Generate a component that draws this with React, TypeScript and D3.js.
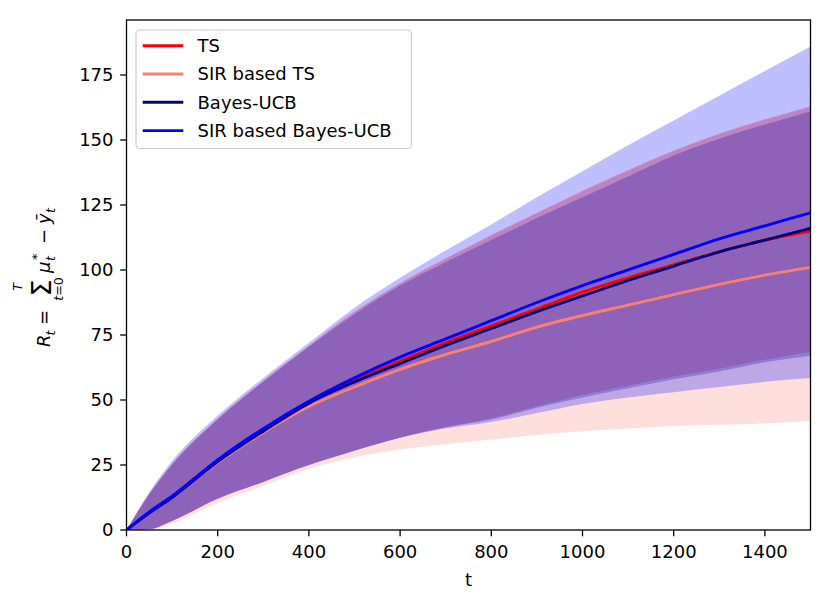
import * as d3 from "d3";

const steps = [0, 50, 100, 200, 300, 400, 500, 600, 700, 800, 900, 1000, 1100, 1200, 1300, 1400, 1500];

const tsMean = [0, 6.8, 12.8, 26.8, 38.5, 49, 57.5, 65, 72, 78.5, 85, 91.5, 97, 102, 107, 111.5, 115];
const tsLow = [0, 0.3, 3.5, 12, 18.5, 25, 30.5, 35.5, 39.5, 43, 47.5, 52, 55.5, 59, 62, 65.5, 68.5];
const tsHigh = [0, 14, 25.5, 43, 57.5, 71, 84, 95, 104.5, 113.5, 122, 130.5, 138.5, 146, 152.5, 158, 163];

const sirTsMean = [0, 6.5, 12.5, 26, 37.5, 47.5, 55, 61.8, 67.5, 72.5, 78, 82.5, 86.5, 90.5, 94.5, 98, 101];
const sirTsLow = [0, 0, 2.5, 10.5, 17, 23.5, 28, 31, 33, 34.8, 36.5, 38, 39, 40, 40.5, 41, 42];
const sirTsHigh = [0, 13.5, 25, 42.5, 57, 70.5, 83.5, 94.5, 104, 113, 121.5, 130, 138, 145.5, 152, 157.5, 162.5];

const bucbMean = [0, 6.5, 12.5, 26.3, 38, 48.8, 57, 64, 71, 77.5, 84, 90, 96, 101.5, 107, 111.5, 116];
const bucbLow = [0, 0.3, 3.5, 12, 18.5, 25, 30.5, 35.5, 39.5, 42.5, 47, 51, 54.5, 58, 61, 64.5, 67];
const bucbHigh = [0, 13.8, 25.2, 42.5, 57, 70.5, 83, 94, 103, 111.5, 120, 128, 136, 144, 150.5, 156, 161];

const sirBucbMean = [0, 7, 13, 27, 39, 49.5, 58.5, 66.5, 73.5, 80.5, 87.5, 94, 100, 106, 112, 117, 122];
const sirBucbLow = [0, 0.3, 3.5, 12, 18.5, 25, 30.5, 35.5, 39, 41.5, 45, 48.5, 51, 53, 55, 57, 58.5];
const sirBucbHigh = [0, 14.5, 26.5, 44, 58.5, 72, 85.5, 97, 107.5, 117.5, 128, 138, 148, 157.5, 167, 176.5, 186];

const xTicks = [0, 200, 400, 600, 800, 1000, 1200, 1400];
const yTicks = [0, 25, 50, 75, 100, 125, 150, 175];

type Series = { name: string; color: string; mean: number[]; low: number[]; high: number[] };

const series: Series[] = [
  { name: "TS", color: "#ff0000", mean: tsMean, low: tsLow, high: tsHigh },
  { name: "SIR based TS", color: "#fa8072", mean: sirTsMean, low: sirTsLow, high: sirTsHigh },
  { name: "Bayes-UCB", color: "#000080", mean: bucbMean, low: bucbLow, high: bucbHigh },
  { name: "SIR based Bayes-UCB", color: "#0000ff", mean: sirBucbMean, low: sirBucbLow, high: sirBucbHigh },
];

const W = 831;
const H = 602;
const margin = { top: 20, right: 20.5, bottom: 72, left: 126.5 };
const font = "DejaVu Sans, sans-serif";

const App = () => {
  const x = d3.scaleLinear().domain([0, 1500]).range([margin.left, W - margin.right]);
  const y = d3.scaleLinear().domain([0, 196.15]).range([H - margin.bottom, margin.top]);

  const idx = d3.range(steps.length);

  const area = (s: Series) =>
    d3
      .area<number>()
      .x((i) => x(steps[i]))
      .y0((i) => y(s.low[i]))
      .y1((i) => y(s.high[i]))
      .curve(d3.curveMonotoneX)(idx) ?? "";

  const line = (s: Series) =>
    d3
      .line<number>()
      .x((i) => x(steps[i]))
      .y((i) => y(s.mean[i]))
      .curve(d3.curveMonotoneX)(idx) ?? "";

  const [x0, x1] = x.range();
  const [yb, yt] = y.range();

  return (
    <svg
      width={W}
      height={H}
      style={{ position: "absolute", left: 0, top: 0, background: "#fff" }}
      fontFamily={font}
    >
      <defs>
        <clipPath id="plot">
          <rect x={x0} y={yt} width={x1 - x0} height={yb - yt} />
        </clipPath>
      </defs>

      <g clipPath="url(#plot)">
        {series.map((s) => (
          <path key={s.name + "-band"} d={area(s)} fill={s.color} fillOpacity={0.25} stroke="none" />
        ))}
        {series.map((s) => (
          <path
            key={s.name + "-line"}
            d={line(s)}
            fill="none"
            stroke={s.color}
            strokeWidth={2.9}
            strokeLinejoin="round"
          />
        ))}
      </g>

      {/* axes frame */}
      <rect x={x0} y={yt} width={x1 - x0} height={yb - yt} fill="none" stroke="#000" strokeWidth={1.3} />

      {xTicks.map((t) => (
        <g key={"x" + t} transform={`translate(${x(t)},${yb})`}>
          <line y2={6.3} stroke="#000" strokeWidth={1.3} />
          <text y={28} textAnchor="middle" fontSize={18} fill="#000">
            {t}
          </text>
        </g>
      ))}
      {yTicks.map((t) => (
        <g key={"y" + t} transform={`translate(${x0},${y(t)})`}>
          <line x2={-6.3} stroke="#000" strokeWidth={1.3} />
          <text x={-13} dy="0.35em" textAnchor="end" fontSize={18} fill="#000">
            {t}
          </text>
        </g>
      ))}

      <text x={(x0 + x1) / 2} y={586} textAnchor="middle" fontSize={18} fill="#000">
        t
      </text>

      {/* y label: R_t = sum_{t=0}^T mu_t^* - ybar_t */}
      <g transform="translate(50,275) rotate(-90)" fill="#000" fontSize={18}>
        <text x={-72} y={0} fontStyle="italic">R</text>
        <text x={-60.5} y={4.5} fontStyle="italic" fontSize={12.6}>t</text>
        <text x={-50} y={0}>=</text>
        <text x={-13} y={1} fontSize={27} textAnchor="middle">Σ</text>
        <text x={-12} y={-28} fontStyle="italic" fontSize={12.6} textAnchor="middle">T</text>
        <text x={-14} y={12.5} fontSize={12.6} textAnchor="middle">
          <tspan fontStyle="italic">t</tspan>=0
        </text>
        <text x={2} y={0} fontStyle="italic">μ</text>
        <text x={14} y={4.5} fontStyle="italic" fontSize={12.6}>t</text>
        <text x={15} y={-9} fontSize={12.6}>*</text>
        <text x={31} y={0}>−</text>
        <text x={51} y={0} fontStyle="italic">ȳ</text>
        <text x={62} y={4.5} fontStyle="italic" fontSize={12.6}>t</text>
      </g>

      {/* legend */}
      <g>
        <rect x={136} y={30} width={275.5} height={118.5} rx={4} fill="#fff" fillOpacity={0.8} stroke="#cccccc" strokeWidth={1.2} />
        {series.map((s, i) => (
          <g key={s.name + "-leg"} transform={`translate(0,${45.7 + i * 28.3})`}>
            <line x1={142.7} x2={183.3} stroke={s.color} strokeWidth={2.9} />
            <text x={197.5} dy="0.35em" fontSize={18} fill="#000">
              {s.name}
            </text>
          </g>
        ))}
      </g>
    </svg>
  );
};

export default App;
